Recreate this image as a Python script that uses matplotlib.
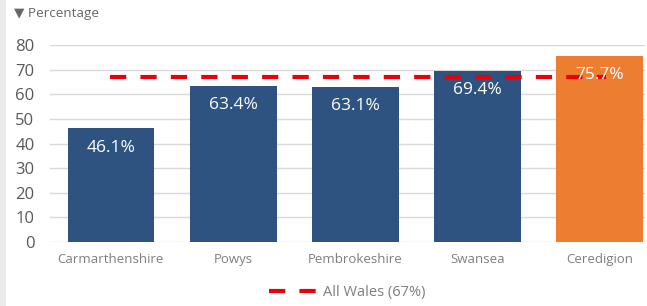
import matplotlib
matplotlib.use("Agg")
import matplotlib.pyplot as plt
from matplotlib.patches import Rectangle

# data
areas = ["Carmarthenshire", "Powys", "Pembrokeshire", "Swansea", "Ceredigion"]
values = [46.1, 63.4, 63.1, 69.4, 75.7]
value_labels = ["46.1%", "63.4%", "63.1%", "69.4%", "75.7%"]
wales_avg = 67
legend_label = "All Wales (67%)"
yticks = [0, 10, 20, 30, 40, 50, 60, 70, 80]

navy = "#2E5381"
orange = "#ED7D31"
bar_colors = [navy, navy, navy, navy, orange]

plt.rcParams['font.family'] = ['Open Sans', 'DejaVu Sans']

fig = plt.figure(figsize=(6.47, 3.06), dpi=100)
fig.patch.set_facecolor("white")
# light grey strip down the left edge
fig.patches.append(Rectangle((0, 0), 0.009, 1, transform=fig.transFigure,
                             facecolor="#EBEBEB", edgecolor="none", zorder=0))

ax = fig.add_axes([0.077, 0.209, 0.92, 0.644])
x = list(range(len(areas)))
ax.bar(x, values, width=0.71, color=bar_colors, zorder=2)

# All Wales average line
ax.plot([-0.01, 4.05], [wales_avg, wales_avg], color="#E8000B", linewidth=3,
        linestyle=(0, (3.9, 3.4)), zorder=3, label=legend_label)

for xi, v, lab in zip(x, values, value_labels):
    ax.annotate(lab, (xi, v), xytext=(0, -8), textcoords="offset points",
                ha="center", va="top", color="white", fontsize=12.5, zorder=4)

ax.set_xlim(-0.5, 4.37)
ax.set_ylim(0, 80)
ax.set_yticks(yticks)
ax.set_xticks(x)
ax.set_xticklabels(areas, fontsize=9.5, color="#7F7F7F")
ax.tick_params(axis="y", labelsize=12, colors="#595959", length=0, pad=11)
ax.tick_params(axis="x", length=0, pad=8)
ax.grid(axis="y", color="#D9D9D9", linewidth=1, zorder=0)
ax.set_axisbelow(True)
for s in ax.spines.values():
    s.set_visible(False)

fig.text(0.022, 0.957, "\u25BC Percentage", fontsize=9.7, color="#666666",
         ha="left", va="center")

fig.legend(loc="center", bbox_to_anchor=(0.537, 0.043), frameon=False,
           fontsize=10.5, labelcolor="#7F7F7F", handlelength=3.4,
           handletextpad=0.3)

fig.savefig("out.png", dpi=100)
